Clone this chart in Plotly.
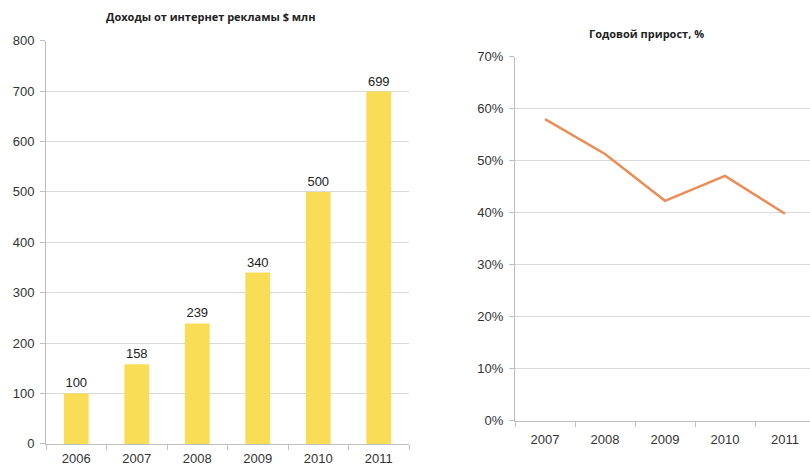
import plotly.graph_objects as go

years_rev = ["2006", "2007", "2008", "2009", "2010", "2011"]
revenue = [100, 158, 239, 340, 500, 699]
years_growth = ["2007", "2008", "2009", "2010", "2011"]
growth = [0.580, 0.513, 0.423, 0.471, 0.398]

title_left = "Доходы от интернет рекламы $ млн"
title_right = "Годовой прирост, %"

W, H = 810, 471


def fy(y):
    # screen row -> figure row (the photographed page is slightly squeezed vertically)
    return (y - 7.32) / 0.9677


def px_x(a, b):
    return [a / W, b / W]


def px_y(top, bottom):
    return [(H - fy(bottom)) / H, (H - fy(top)) / H]


fig = go.Figure()
fig.add_trace(go.Bar(
    x=years_rev, y=revenue, marker_color="#F9DD56", marker_line_width=0,
    text=[str(v) for v in revenue], textposition="outside",
    textfont=dict(size=13, color="#222222", family="Liberation Sans"),
    cliponaxis=False, xaxis="x", yaxis="y", width=0.41,
))
fig.add_trace(go.Scatter(
    x=years_growth, y=growth, mode="lines",
    line=dict(color="#EB8D57", width=2.5), xaxis="x2", yaxis="y2",
))

axis_font = dict(size=13, color="#333333", family="Liberation Sans")
fig.update_layout(
    width=W, height=H, showlegend=False, autosize=False,
    paper_bgcolor="white", plot_bgcolor="white",
    margin=dict(l=0, r=0, t=0, b=0),
    font=dict(family="Liberation Sans"),
    xaxis=dict(domain=px_x(46, 409), type="category", showline=True, linecolor="#BFBFBF",
               ticks="outside", tickson="boundaries", ticklen=5, tickcolor="#BFBFBF",
               tickfont=axis_font, showgrid=False, anchor="y", range=[-0.5, 5.5],
               ticklabelstandoff=3),
    yaxis=dict(domain=px_y(41, 444), range=[0, 800], dtick=100, showline=True,
               linecolor="#BFBFBF", ticks="outside", ticklen=5, tickcolor="#BFBFBF",
               gridcolor="#D9D9D9", gridwidth=1, tickfont=axis_font, anchor="x",
               zeroline=False, ticklabelstandoff=3),
    xaxis2=dict(domain=px_x(515, 810), type="category", showline=True, linecolor="#BFBFBF",
                ticks="outside", tickson="boundaries", ticklen=5, tickcolor="#BFBFBF",
                tickfont=axis_font, showgrid=False, anchor="y2",
                range=[-0.5, 4.5 - 5 / 60], ticklabelstandoff=7),
    yaxis2=dict(domain=px_y(57, 421), range=[0, 0.7], dtick=0.1, tickformat=".0%",
                showline=True, linecolor="#BFBFBF", ticks="outside", ticklen=5,
                tickcolor="#BFBFBF", gridcolor="#D9D9D9", gridwidth=1,
                tickfont=axis_font, anchor="x2", zeroline=False, ticklabelstandoff=3),
    annotations=[
        dict(text="<b>" + title_left + "</b>", x=210 / W, y=(H - fy(17)) / H, xref="paper",
             yref="paper", showarrow=False, xanchor="center", yanchor="middle",
             font=dict(size=11, color="#222222", family="Open Sans")),
        dict(text="<b>" + title_right + "</b>", x=646 / W, y=(H - fy(34)) / H, xref="paper",
             yref="paper", showarrow=False, xanchor="center", yanchor="middle",
             font=dict(size=11, color="#222222", family="Open Sans")),
    ],
)

fig.write_html(
    "out.html",
    config={"responsive": False, "displayModeBar": False},
    post_script=(
        "document.body.style.margin='0';document.body.style.overflow='hidden';"
    ),
)
